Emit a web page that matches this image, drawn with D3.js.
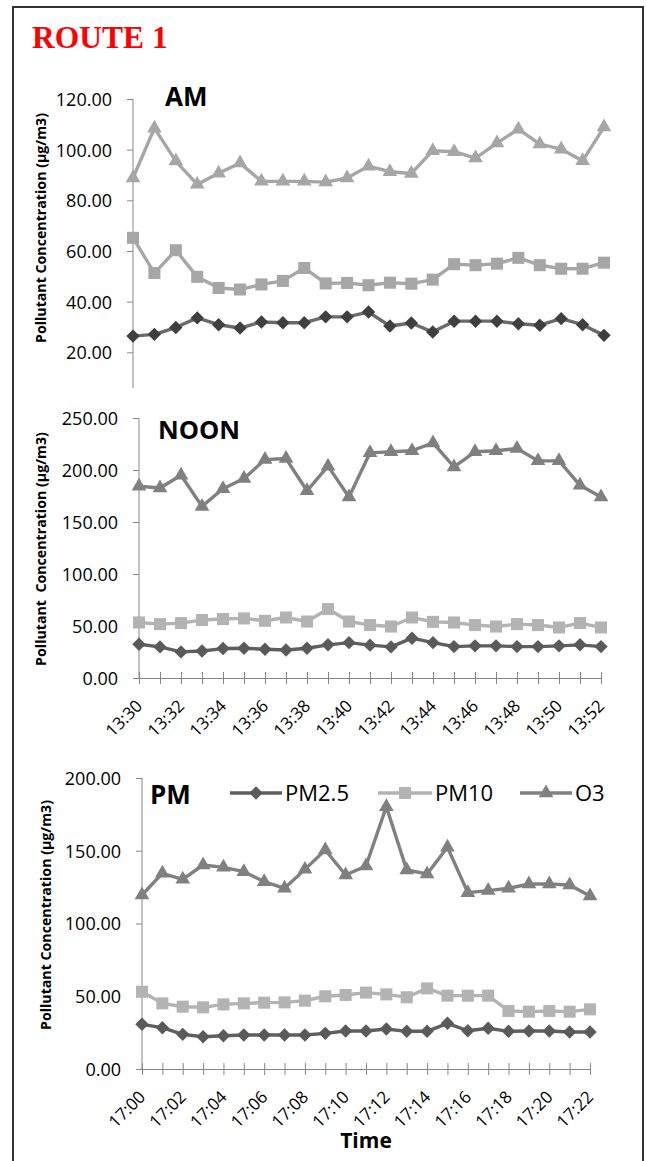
<!DOCTYPE html>
<html>
<head>
<meta charset="utf-8">
<script src="https://cdn.jsdelivr.net/npm/d3@7"></script>
<style>
  html, body { margin: 0; padding: 0; background: #fff; }
  svg { display: block; }
  .axis path, .axis line { stroke: #868686; }
  .axis text { fill: #000; font-family: "Open Sans", sans-serif; }
</style>
</head>
<body>
<svg id="chart" width="646" height="1161"></svg>
<script>
"use strict";

// time labels
const timesMorning = ["13:30","13:31","13:32","13:33","13:34","13:35","13:36","13:37","13:38","13:39","13:40","13:41",
                      "13:42","13:43","13:44","13:45","13:46","13:47","13:48","13:49","13:50","13:51","13:52"];
const timesEvening = ["17:00","17:01","17:02","17:03","17:04","17:05","17:06","17:07","17:08","17:09","17:10","17:11",
                      "17:12","17:13","17:14","17:15","17:16","17:17","17:18","17:19","17:20","17:21","17:22"];

// AM values
const amPM25 = [26.4, 27.1, 29.8, 33.6, 30.9, 29.6, 32.0, 31.7, 31.7, 34.0, 34.0, 35.9,
                30.4, 31.6, 28.0, 32.3, 32.3, 32.3, 31.3, 30.7, 33.3, 30.9, 26.7];
const amPM10 = [65.2, 51.3, 60.3, 49.8, 45.4, 44.8, 46.8, 48.2, 53.3, 47.2, 47.4, 46.5,
                47.5, 47.1, 48.7, 54.8, 54.4, 55.0, 57.3, 54.4, 53.0, 53.0, 55.4];
const amO3   = [88.8, 108.5, 95.5, 86.3, 90.7, 94.7, 87.5, 87.5, 87.5, 87.2, 88.8, 93.5,
                91.3, 90.6, 99.6, 99.2, 96.7, 102.6, 108.1, 102.2, 100.2, 95.6, 108.9];

// NOON values
const noonPM25 = [32.5, 29.9, 25.1, 26.0, 28.3, 28.6, 27.7, 26.9, 28.6, 31.9, 34.0, 31.6,
                  29.9, 38.3, 34.0, 30.2, 30.9, 30.9, 30.2, 30.2, 30.9, 31.9, 30.2];
const noonPM10 = [53.4, 51.8, 52.8, 55.7, 56.7, 57.3, 55.0, 58.2, 54.3, 66.3, 54.3, 50.9,
                  49.5, 58.2, 54.0, 53.4, 50.9, 49.5, 51.8, 50.9, 48.6, 52.8, 48.6];
const noonO3   = [184.4, 182.7, 195.0, 165.0, 182.0, 191.8, 210.0, 211.0, 180.0, 203.7, 174.0, 216.5,
                  217.5, 218.5, 226.0, 203.0, 217.5, 218.5, 220.7, 208.8, 208.8, 185.3, 174.0];

// PM values
const pmPM25 = [30.7, 28.4, 23.8, 22.2, 22.9, 23.4, 23.4, 23.4, 23.4, 24.5, 26.1, 26.1,
                27.5, 25.9, 25.9, 31.4, 26.3, 28.0, 25.9, 26.1, 26.1, 25.4, 25.4];
const pmPM10 = [53.1, 45.1, 42.8, 42.4, 44.4, 45.1, 45.6, 45.8, 47.0, 50.0, 50.9, 52.5,
                51.3, 49.3, 55.4, 50.4, 50.4, 50.4, 39.9, 39.4, 39.9, 39.4, 41.0];
const pmO3   = [119.6, 134.5, 130.4, 140.2, 138.6, 135.6, 128.7, 124.2, 137.2, 150.5, 133.3, 139.5,
                180.3, 136.8, 134.0, 152.4, 121.2, 122.6, 124.2, 127.1, 127.1, 126.5, 118.9];

// y tick values
const amTicks   = [20, 40, 60, 80, 100, 120];
const noonTicks = [0, 50, 100, 150, 200, 250];
const pmTicks   = [0, 50, 100, 150, 200];

const seriesNames = ["PM2.5", "PM10", "O3"];

const svg = d3.select("#chart");
const fmt = d3.format(".2f");
const yTitle = "Pollutant Concentration (\u00b5g/m3)";

// marker shapes
const sym = {
  "PM2.5": d3.symbol().type(d3.symbolDiamond2).size(115),
  "PM10":  d3.symbol().type(d3.symbolSquare2).size(185),
  "O3":    d3.symbol().type(d3.symbolTriangle2).size(155)
};

// panels: layout + data
const panels = [
  { name: "AM", times: timesMorning, values: [amPM25, amPM10, amO3], ticks: amTicks,
    x0: 133, x1: 604, yDom: [0, 120], yRange: [403, 99], axisBottom: 388, xAxis: false,
    title: { x: 165, y: 106, size: 26 }, yTitleX: 46, yTitleY: 228, bg: 0,
    colors: [ { line: "#6a6a6a", mark: "#3f3f3f" }, { line: "#a6a6a6", mark: "#a6a6a6" }, { line: "#a6a6a6", mark: "#a6a6a6" } ] },
  { name: "NOON", times: timesMorning, values: [noonPM25, noonPM10, noonO3], ticks: noonTicks,
    x0: 139, x1: 601, yDom: [0, 250], yRange: [678, 418], axisBottom: 678, xAxis: true,
    title: { x: 158, y: 439, size: 25.5 }, yTitleX: 46, yTitleY: 549, bg: 389, yTitle: "Pollutant  Concentration (\u00b5g/m3)",
    colors: [ { line: "#5f5f5f", mark: "#5a5a5a" }, { line: "#b3b3b3", mark: "#b3b3b3" }, { line: "#808080", mark: "#808080" } ] },
  { name: "PM", times: timesEvening, values: [pmPM25, pmPM10, pmO3], ticks: pmTicks,
    x0: 142, x1: 590, yDom: [0, 200], yRange: [1069, 778], axisBottom: 1069, xAxis: true,
    title: { x: 150, y: 804, size: 26 }, yTitleX: 51, yTitleY: 915, bg: 760, legend: true,
    colors: [ { line: "#5f5f5f", mark: "#5a5a5a" }, { line: "#b3b3b3", mark: "#b3b3b3" }, { line: "#808080", mark: "#808080" } ] }
];

panels.forEach((p) => {

  const g = svg.append("g");

  if (p.bg) {
    g.append("rect").attr("x", 14).attr("y", p.bg).attr("width", 628).attr("height", 1161 - p.bg).attr("fill", "#fff");
  }

  const x = d3.scalePoint().domain(p.times).range([p.x0, p.x1]);
  const y = d3.scaleLinear().domain(p.yDom).range(p.yRange);

  // y-axis
  const yAxis = d3.axisLeft(y).tickValues(p.ticks).tickFormat(fmt).tickSize(6).tickSizeOuter(0);
  const ya = g.append("g")
      .attr("class", "axis")
      .attr("transform", `translate(${p.x0},0)`)
      .call(yAxis);
  ya.selectAll("text").style("font-size", "18px").attr("x", -21).attr("dy", "0.36em");
  ya.select(".domain").attr("d", `M0,${p.yRange[1]}V${p.axisBottom}`);

  // x-axis
  if (p.xAxis) {
    const xAxis = d3.axisBottom(x).tickSize(6).tickSizeOuter(0)
        .tickFormat((d, i) => i % 2 === 0 ? d : "");
    const xa = g.append("g")
        .attr("class", "axis")
        .attr("transform", `translate(0,${p.axisBottom})`)
        .call(xAxis);
    xa.selectAll(".tick line").attr("y1", -6);
    xa.selectAll("text")
        .style("font-size", "17px")
        .style("text-anchor", "end")
        .attr("y", 0).attr("dy", 0)
        .attr("transform", "translate(4,29) rotate(-45)");
  }

  // y title
  g.append("text")
      .attr("transform", `translate(${p.yTitleX},${p.yTitleY}) rotate(-90)`)
      .attr("text-anchor", "middle")
      .style("font-family", "'Open Sans', sans-serif")
      .style("font-weight", "bold")
      .style("font-size", "14.2px")
      .style("white-space", "pre")
      .text(p.yTitle || yTitle);

  // panel title
  g.append("text")
      .attr("x", p.title.x).attr("y", p.title.y)
      .style("font-family", "'Open Sans', sans-serif")
      .style("font-weight", "bold")
      .style("font-size", p.title.size + "px")
      .text(p.name);

  const line = d3.line()
      .x((d, i) => x(p.times[i]))
      .y((d) => y(d));

  p.values.forEach((vals, si) => {
    const c = p.colors[si];
    const sg = g.append("g");
    sg.append("path")
        .attr("d", line(vals))
        .attr("fill", "none")
        .attr("stroke", c.line)
        .attr("stroke-width", 3.4)
        .attr("stroke-linejoin", "round");
    sg.selectAll("path.mark")
        .data(vals)
      .enter().append("path")
        .attr("class", "mark")
        .attr("d", sym[seriesNames[si]])
        .attr("transform", (d, i) => `translate(${x(p.times[i])},${y(d)})`)
        .attr("fill", c.mark);
  });

  // legend
  if (p.legend) {
    const items = [ { x: 230, w: 52 }, { x: 378, w: 54 }, { x: 520, w: 52 } ];
    const lg = g.append("g").attr("transform", "translate(0,793)");
    seriesNames.forEach((name, si) => {
      const it = items[si];
      const c = p.colors[si];
      lg.append("line")
          .attr("x1", it.x).attr("x2", it.x + it.w)
          .attr("stroke", c.line).attr("stroke-width", 3.4);
      lg.append("path")
          .attr("d", sym[name])
          .attr("transform", `translate(${it.x + it.w / 2},0)`)
          .attr("fill", c.mark);
      lg.append("text")
          .attr("x", it.x + it.w + 3)
          .attr("dy", "0.36em")
          .style("font-family", "'Open Sans', sans-serif")
          .style("font-size", "22px")
          .text(name);
    });
  }
});

// x-axis title
svg.append("text")
    .attr("x", 366).attr("y", 1148)
    .attr("text-anchor", "middle")
    .style("font-family", "'Open Sans', sans-serif")
    .style("font-weight", "bold")
    .style("font-size", "21px")
    .text("Time");

// route heading
svg.append("text")
    .attr("x", 32).attr("y", 48)
    .style("font-family", "'Liberation Serif', serif")
    .style("font-weight", "bold")
    .style("font-size", "31.5px")
    .attr("fill", "#ff0000")
    .text("ROUTE 1");

// outer frame
svg.append("rect")
    .attr("x", 13).attr("y", 7)
    .attr("width", 630).attr("height", 1170)
    .attr("fill", "none")
    .attr("stroke", "#333")
    .attr("stroke-width", 2);
</script>
</body>
</html>
